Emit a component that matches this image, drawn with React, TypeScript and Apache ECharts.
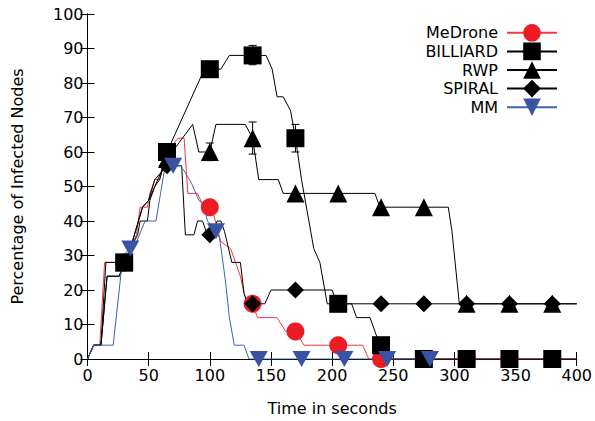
import React, { useEffect, useRef } from "react";
import * as echarts from "echarts";

const xTicks = [0, 50, 100, 150, 200, 250, 300, 350, 400];
const yTicks = [0, 10, 20, 30, 40, 50, 60, 70, 80, 90, 100];

const seriesNames = ["MeDrone", "BILLIARD", "RWP", "SPIRAL", "MM"];

const medroneTime = [0,5,10,14,25,30,35,40,43,49,51,55,59,62,65,74,79,82,90,95,100,103,109,117,121,125,128,131,135,139,155,162,170,177,205,225,230,240,275,310,345,380,400];
const medroneValue = [0,4,4,28,28,28,32,36,44,44,48,52,52,56,60,64,64,48,48,44,44,42,34,32,28,24,19,16,16,12,12,8,8,4,4,4,0,0,0,0,0,0,0];

const billiardTime = [0,5,11,15,25,30,35,40,45,50,55,60,65,93,95,100,109,116,135,146,151,155,160,166,170,175,185,190,196,205,216,220,231,236,240,245,275,310,345,380,400];
const billiardValue = [0,4,4,28,28,28,32,38,44,46,50,54,60,82,84,84,84,88,88,88,84,76,76,72,64,52,32,28,16,16,16,12,12,7,4,0,0,0,0,0,0];

const rwpTime = [0,5,11,16,26,30,35,41,43,49,51,55,59,62,65,86,91,100,105,129,135,140,156,160,170,205,235,239,240,275,295,298,304,310,345,380,400];
const rwpValue = [0,4,4,24,24,28,32,36,40,40,46,50,52,56,58,68,60,60,68,68,64,52,52,48,48,48,48,44,44,44,44,37,16,16,16,16,16];

const spiralTime = [0,5,11,16,26,30,35,40,45,50,55,60,65,77,80,87,90,94,98,100,102,106,109,112,118,125,128,131,135,145,150,170,200,204,205,240,275,310,345,380,400];
const spiralValue = [0,4,4,24,24,28,32,38,44,46,52,54,56,56,36,36,40,40,36,36,36,40,40,37,28,28,19,16,16,16,20,20,20,16,16,16,16,16,16,16,16];

const mmTime = [0,5,21,29,35,39,47,56,63,70,76,80,85,91,95,98,105,108,110,113,116,120,128,132,140,175,210,245,280];
const mmValue = [0,4,4,30,32,33,40,40,55,56,56,54,51,46,45,40,37,35,30,22,12,4,4,0,0,0,0,0,0];

const markerTimes = [30, 65, 100, 135, 170, 205, 240, 275, 310, 345, 380];
const mmMarkerTimes = [35, 70, 105, 140, 175, 210, 245, 280];

const billiardErrTime = [135, 170];
const billiardErrLow = [85.3, 60];
const billiardErrHigh = [90.9, 68];
const rwpErrTime = [100, 135];
const rwpErrLow = [57.5, 59.4];
const rwpErrHigh = [62.6, 68.7];

const FONT = "DejaVu Sans";

function pairs(t: number[], v: number[]) {
  return t.map((x, i) => [x, v[i]]);
}

function makeLine(
  name: string,
  t: number[],
  v: number[],
  marks: number[],
  symbol: string,
  size: number | number[],
  lineColor: string,
  markColor: string
) {
  return {
    name,
    type: "line",
    data: pairs(t, v),
    symbol,
    showSymbol: true,
    showAllSymbol: true,
    symbolSize: (val: number[]) => (marks.indexOf(val[0]) >= 0 ? size : 0),
    lineStyle: { color: lineColor, width: 1 },
    itemStyle: { color: markColor, borderWidth: 0 },
    emphasis: { disabled: true },
    silent: true,
  };
}

function makeErr(t: number[], lo: number[], hi: number[]) {
  return {
    type: "custom",
    silent: true,
    z: 5,
    data: t.map((x, i) => [x, lo[i], hi[i]]),
    renderItem: (_params: any, api: any) => {
      const x = api.value(0);
      const p1 = api.coord([x, api.value(1)]);
      const p2 = api.coord([x, api.value(2)]);
      const w = 4;
      const st = { stroke: "#000", lineWidth: 1 };
      return {
        type: "group",
        children: [
          { type: "line", shape: { x1: p1[0], y1: p1[1], x2: p2[0], y2: p2[1] }, style: st },
          { type: "line", shape: { x1: p1[0] - w, y1: p1[1], x2: p1[0] + w, y2: p1[1] }, style: st },
          { type: "line", shape: { x1: p2[0] - w, y1: p2[1], x2: p2[0] + w, y2: p2[1] }, style: st },
        ],
      };
    },
  };
}

export default function App() {
  const ref = useRef<HTMLDivElement>(null);
  useEffect(() => {
    if (!ref.current) return;
    const chart = echarts.init(ref.current, undefined, { renderer: "svg" });
    const axisCommon = {
      type: "value",
      axisLine: { show: true, lineStyle: { color: "#000", width: 1 } },
      axisTick: { show: true, inside: true, length: 7, lineStyle: { color: "#000" } },
      splitLine: { show: false },
    };
    chart.setOption({
      animation: false,
      textStyle: { fontFamily: FONT },
      grid: { left: 87.5, right: 15.5, top: 14, bottom: 59.3 },
      legend: {
        data: seriesNames,
        orient: "vertical",
        align: "right",
        right: 32,
        top: 19,
        itemWidth: 50,
        itemHeight: 22,
        itemGap: 1,
        selectedMode: false,
        textStyle: { fontSize: 16, fontFamily: FONT, color: "#000", lineHeight: 17, padding: [0, 4, 0, 0] },
      },
      xAxis: [
        {
          ...axisCommon,
          position: "bottom",
          min: 0,
          max: 400,
          interval: 50,
          axisLabel: {
            fontSize: 16,
            color: "#000",
            fontFamily: FONT,
            margin: 8,
            formatter: (v: number) => (xTicks.indexOf(v) >= 0 ? String(v) : ""),
          },
          name: "Time in seconds",
          nameLocation: "middle",
          nameGap: 41,
          nameTextStyle: { fontSize: 16, color: "#000", fontFamily: FONT },
        },
        {
          ...axisCommon,
          position: "top",
          min: 0,
          max: 400,
          interval: 50,
          axisLabel: { show: false },
        },
      ],
      yAxis: [
        {
          ...axisCommon,
          position: "left",
          min: 0,
          max: 100,
          interval: 10,
          axisLabel: {
            fontSize: 16,
            color: "#000",
            fontFamily: FONT,
            margin: 4,
            formatter: (v: number) => (yTicks.indexOf(v) >= 0 ? String(v) : ""),
          },
          name: "Percentage of Infected Nodes",
          nameLocation: "middle",
          nameGap: 62,
          nameTextStyle: { fontSize: 16, color: "#000", fontFamily: FONT },
        },
        {
          ...axisCommon,
          position: "right",
          min: 0,
          max: 100,
          interval: 10,
          axisLabel: { show: false },
        },
      ],
      series: [
        makeLine("MeDrone", medroneTime, medroneValue, markerTimes, "circle", 18, "#f03a3a", "#ec1c24"),
        makeLine("BILLIARD", billiardTime, billiardValue, markerTimes, "rect", 18, "#000", "#000"),
        makeErr(billiardErrTime, billiardErrLow, billiardErrHigh),
        makeLine("RWP", rwpTime, rwpValue, markerTimes, "triangle", 18, "#000", "#000"),
        makeErr(rwpErrTime, rwpErrLow, rwpErrHigh),
        makeLine("SPIRAL", spiralTime, spiralValue, markerTimes, "diamond", 17, "#000", "#000"),
        makeLine("MM", mmTime, mmValue, mmMarkerTimes, "path://M0,0L10,0L5,9Z", [18, 16], "#4262b2", "#3953a4"),
      ],
    });
    return () => chart.dispose();
  }, []);
  return (
    <div
      ref={ref}
      style={{ position: "fixed", left: 0, top: 0, width: 595, height: 421, background: "#fff" }}
    />
  );
}
